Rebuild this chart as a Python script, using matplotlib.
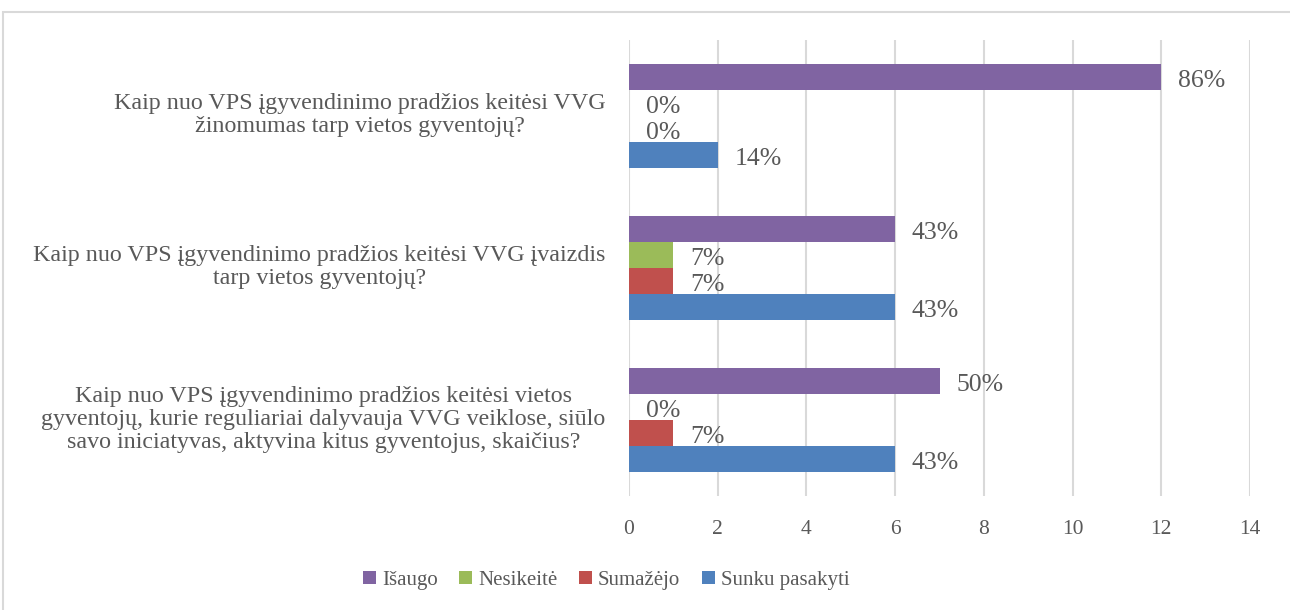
import numpy as np
import matplotlib.pyplot as plt
from matplotlib.patches import Rectangle

plt.rcParams['font.family'] = ['Liberation Serif', 'DejaVu Serif']

questions = [
    'Kaip nuo VPS įgyvendinimo pradžios keitėsi VVG\nžinomumas tarp vietos gyventojų?',
    'Kaip nuo VPS įgyvendinimo pradžios keitėsi VVG įvaizdis\ntarp vietos gyventojų?',
    'Kaip nuo VPS įgyvendinimo pradžios keitėsi vietos\ngyventojų, kurie reguliariai dalyvauja VVG veiklose, siūlo\nsavo iniciatyvas, aktyvina kitus gyventojus, skaičius?',
]
series = ['Išaugo', 'Nesikeitė', 'Sumažėjo', 'Sunku pasakyti']
colors = ['#8064A2', '#9BBB59', '#C0504D', '#4F81BD']

isaugo = [12, 6, 7]
nesikeite = [0, 1, 0]
sumazejo = [0, 1, 1]
sunku = [2, 6, 6]

isaugo_lbl = ['86%', '43%', '50%']
nesikeite_lbl = ['0%', '7%', '0%']
sumazejo_lbl = ['0%', '7%', '7%']
sunku_lbl = ['14%', '43%', '43%']

values = [isaugo, nesikeite, sumazejo, sunku]
labels = [isaugo_lbl, nesikeite_lbl, sumazejo_lbl, sunku_lbl]

text_color = '#595959'

fig = plt.figure(figsize=(12.9, 6.1), dpi=100)
fig.patches.append(Rectangle((3 / 1290, -0.1), 1.2, 1 - 12 / 610 + 0.1,
                             transform=fig.transFigure, fill=False,
                             edgecolor='#d9d9d9', linewidth=1.5))
ax = fig.add_axes([629 / 1290, 1 - 496 / 610, 621 / 1290, 456 / 610])

# groups from top to bottom, y positions grow downward
centers = np.arange(len(questions))
h = 0.171
for i, (vals, lbls) in enumerate(zip(values, labels)):
    y = centers + (i - 1.5) * h
    ax.barh(y, vals, height=h, color=colors[i], label=series[i], zorder=3)
    for yy, v, t in zip(y, vals, lbls):
        ax.annotate(t, (v, yy), xytext=(12, -3), textcoords='offset points',
                    va='center', ha='left', fontsize=18.5, color=text_color)

ax.set_ylim(len(questions) - 0.5, -0.5)
ax.set_xlim(0, 14)
ax.set_xticks(range(0, 15, 2))
# category labels sit a touch above the group centre
ax.set_yticks(centers - 0.028)
ax.set_yticklabels(questions, fontsize=17.3, color=text_color,
                   multialignment='center', linespacing=1.12)
ax.tick_params(axis='x', labelsize=15.5, colors=text_color, length=0, pad=17)
ax.tick_params(axis='y', length=0, pad=17)
ax.grid(axis='x', color='#d9d9d9', linewidth=1.5, zorder=0)
for s in ax.spines.values():
    s.set_visible(False)

ax.legend(loc='lower center', bbox_to_anchor=(0.5 - 0.03, 0.002), bbox_transform=fig.transFigure,
          ncol=4, frameon=False, fontsize=15, handlelength=0.6, handleheight=0.6,
          handletextpad=0.3, columnspacing=1.05, labelcolor=text_color)

fig.savefig('out.png', dpi=100)
